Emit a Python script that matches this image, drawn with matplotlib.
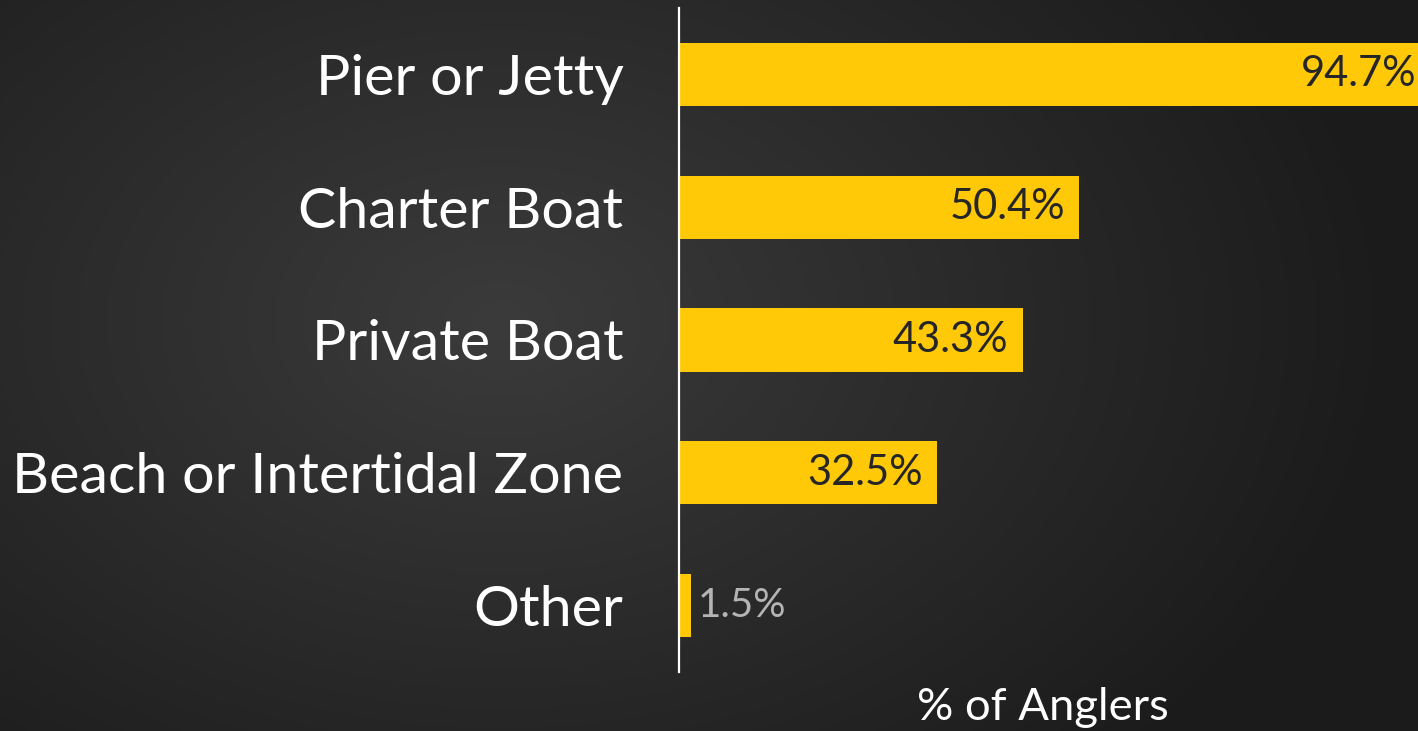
import numpy as np
import matplotlib
matplotlib.use("Agg")
import matplotlib.pyplot as plt

categories = ["Pier or Jetty", "Charter Boat", "Private Boat", "Beach or Intertidal Zone", "Other"]
values = [94.7, 50.4, 43.3, 32.5, 1.5]
value_labels = ["94.7%", "50.4%", "43.3%", "32.5%", "1.5%"]

W, H = 1418, 731
fig = plt.figure(figsize=(W / 100, H / 100), dpi=100)

# background radial gradient
bg = fig.add_axes([0, 0, 1, 1])
yy, xx = np.mgrid[0:H, 0:W]
cx, cy = 500, 320
d = np.sqrt(((xx - cx) / 900.0) ** 2 + ((yy - cy) / 620.0) ** 2)
d = np.clip(d, 0, 1)
c_in = np.array([0x3b, 0x3b, 0x3b]) / 255
c_out = np.array([0x1b, 0x1b, 0x1b]) / 255
img = c_in[None, None, :] * (1 - d[..., None]) + c_out[None, None, :] * d[..., None]
bg.imshow(img, aspect="auto", extent=[0, 1, 0, 1])
bg.axis("off")

ax = fig.add_axes([679 / W, 1 - 672 / H, 1 - 679 / W, (672 - 8) / H])
ax.patch.set_alpha(0)
y = np.arange(len(categories))
ax.barh(y, values, height=0.475, color="#FFC907", edgecolor="none")
ax.set_ylim(len(categories) - 0.5, -0.5)
ax.set_xlim(0, 93.07)
for s in ["top", "right", "bottom"]:
    ax.spines[s].set_visible(False)
ax.spines["left"].set_color("white")
ax.spines["left"].set_linewidth(1.6)
ax.set_xticks([])
ax.set_yticks(y)
ax.set_yticklabels(categories, family=["Lato", "DejaVu Sans"], fontsize=41.3, color="white")
ax.tick_params(axis="y", length=0, pad=40)

for i, (v, lab) in enumerate(zip(values, value_labels)):
    if v > 10:
        ax.text(v - 1.8, i, lab, ha="right", va="center", fontsize=30,
                color="#262626", family=["Lato", "DejaVu Sans"])
    else:
        ax.text(v + 0.9, i, lab, ha="left", va="center", fontsize=29,
                color="#b4b4b4", family=["Lato", "DejaVu Sans"])

fig.text(1043 / W, 1 - 708 / H, "% of Anglers", ha="center", va="center", fontsize=32.7,
         color="white", family=["Lato", "DejaVu Sans"])

fig.savefig("out.png", dpi=100)
